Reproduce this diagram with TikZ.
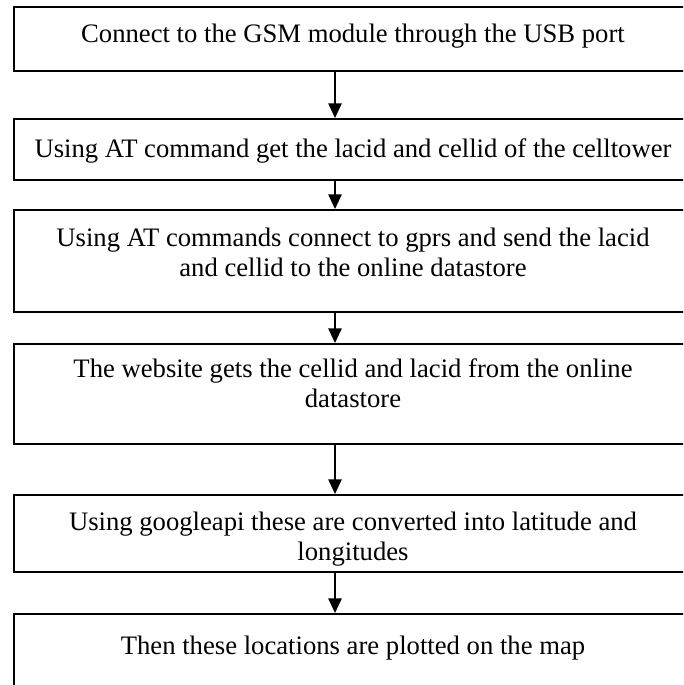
\documentclass[tikz,border=0pt]{standalone}
\usepackage{fontspec}
\setmainfont{Liberation Serif}
\usetikzlibrary{arrows.meta,positioning}

\begin{document}
\begin{tikzpicture}[x=0.75pt,y=-0.75pt,box/.style={draw,line width=1.3pt,anchor=north west,minimum width=510pt,inner sep=0pt},lbl/.style={align=center,font=\fontsize{20}{22.5}\selectfont,inner sep=0pt},arr/.style={line width=1.4pt,-{Triangle[length=11pt,width=10pt]}}]
\useasboundingbox (0,0) rectangle (683,685);
\clip (0,0) rectangle (683,685);
\fill[white] (0,0) rectangle (683,685);
\coordinate (ax) at (335,0);
% flow boxes
\node[box,minimum height=48pt] (s1) at (13,6) {};
\node[box,minimum height=45.75pt] (s2) at (13,118) {};
\node[box,minimum height=76.5pt] (s3) at (13,209) {};
\node[box,minimum height=75pt] (s4) at (13,343) {};
\node[box,minimum height=57.75pt] (s5) at (13,494) {};
\node[box,minimum height=70pt] (s6) at (13,613) {};
% texts
\node[lbl] (t1) at (353,36) {Connect to the GSM module through the USB port};
\node[lbl] (t2) at (353,151) {Using AT command get the lacid and cellid of the celltower};
\node[lbl] (t3) at (353,252) {Using AT commands connect to gprs and send the lacid\\and cellid to the online datastore};
\node[lbl] (t4) at (353,383) {The website gets the cellid and lacid from the online\\datastore};
\node[lbl] (t5) at (353,539) {Using googleapi these are converted into latitude and\\longitudes};
\node[lbl] (t6) at (353,648) {Then these locations are plotted on the map};
% arrows
\draw[arr] (s1.south -| ax) -- (s2.north -| ax);
\draw[arr] (s2.south -| ax) -- (s3.north -| ax);
\draw[arr] (s3.south -| ax) -- (s4.north -| ax);
\draw[arr] (s4.south -| ax) -- (s5.north -| ax);
\draw[arr] (s5.south -| ax) -- (s6.north -| ax);
\end{tikzpicture}
\end{document}
